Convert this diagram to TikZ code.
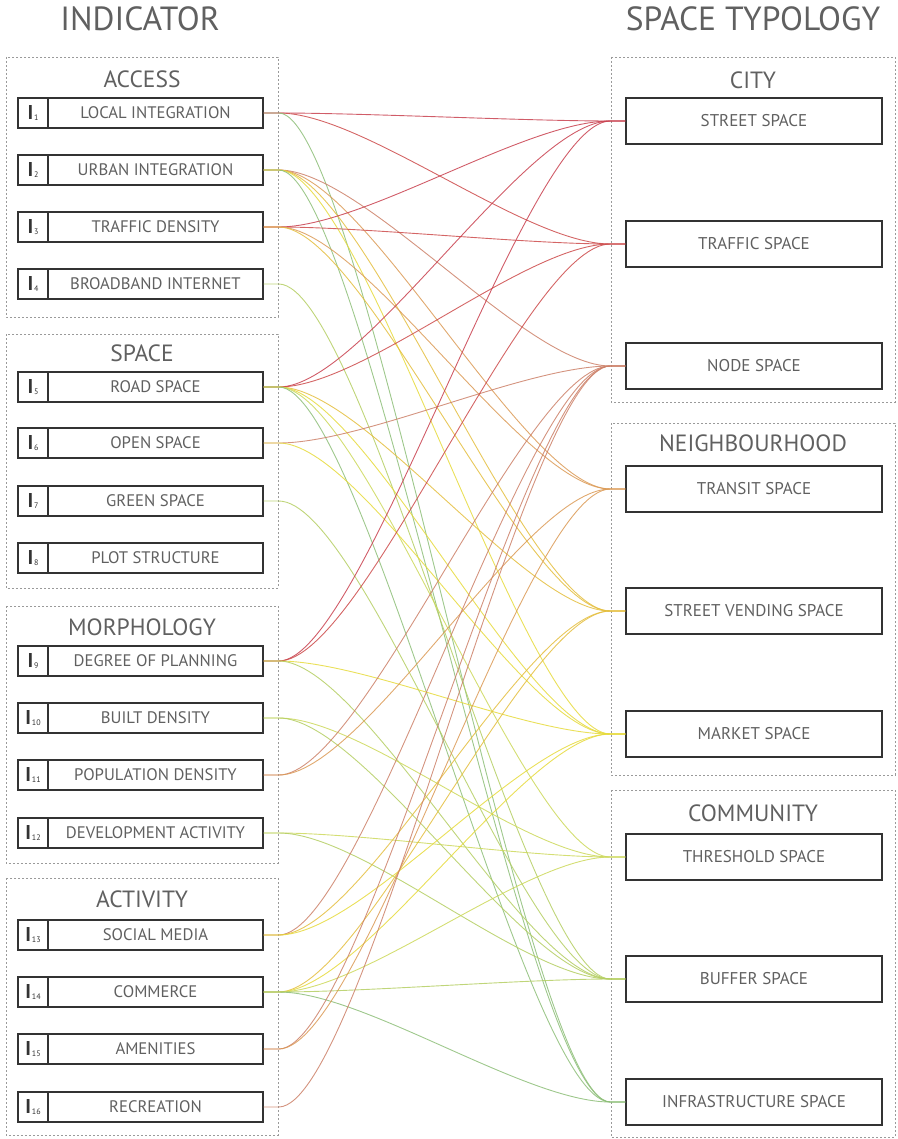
\documentclass[tikz,border=0pt]{standalone}
\usepackage{fontspec}
\setmainfont{PT Sans}
\usetikzlibrary{calc}
\definecolor{txt}{HTML}{606060}
\definecolor{boxc}{HTML}{333333}
\definecolor{grp}{HTML}{9A9A9A}
\definecolor{cR1}{HTML}{C8404E}
\definecolor{cR2}{HTML}{CC4A4A}
\definecolor{cR3}{HTML}{CC8068}
\definecolor{cR4}{HTML}{DB9A55}
\definecolor{cR5}{HTML}{E4BE3E}
\definecolor{cR6}{HTML}{E6DA3C}
\definecolor{cR7}{HTML}{CCD85A}
\definecolor{cR8}{HTML}{B4CE62}
\definecolor{cR9}{HTML}{8DBE78}
\tikzset{
  grpbox/.style={draw=grp, dash pattern=on 2pt off 2pt, line width=0.8pt},
  ibox/.style={draw=boxc, line width=1.4pt, minimum width=30pt, minimum height=30pt, inner sep=0pt, text=black!80},
  lbox/.style={draw=boxc, line width=1.4pt, minimum width=215pt, minimum height=30pt, inner sep=0pt, text=txt, font=\fontsize{16.7}{16.7}\selectfont},
  rbox/.style={draw=boxc, line width=1.4pt, minimum width=256pt, minimum height=46pt, inner sep=0pt, text=txt, font=\fontsize{17}{17}\selectfont},
  grptitle/.style={text=txt, inner sep=0pt, font=\fontsize{23.5}{23.5}\selectfont},
  headtitle/.style={text=txt, inner sep=0pt, font=\fontsize{33.5}{33.5}\selectfont},
  link/.style={line width=0.9pt, opacity=0.85}
}
\newcommand{\idx}[1]{{\fontsize{20}{20}\selectfont\bfseries I}\kern0.8pt\raisebox{-1pt}{\fontsize{8}{8}\selectfont #1}}
\begin{document}
\begin{tikzpicture}[x=1pt,y=-1pt]
\useasboundingbox (0,0) rectangle (897,1139);
% headings
\node[headtitle] (hind) at (140,19) {INDICATOR};
\node[headtitle] (hspt) at (753,19) {SPACE TYPOLOGY};
% group boxes
\draw[grpbox] (6,57) rectangle (278,317);
\draw[grpbox] (6,334) rectangle (278,588);
\draw[grpbox] (6,606) rectangle (278,863);
\draw[grpbox] (6,878) rectangle (278,1135);
\draw[grpbox] (611,57) rectangle (895,402);
\draw[grpbox] (611,423) rectangle (895,775);
\draw[grpbox] (611,790) rectangle (895,1137);
% group titles
\node[grptitle] (gA) at (142,79) {ACCESS};
\node[grptitle] (gS) at (142,353) {SPACE};
\node[grptitle] (gM) at (142,627) {MORPHOLOGY};
\node[grptitle] (gT) at (142,899) {ACTIVITY};
\node[grptitle] (gC) at (753,80) {CITY};
\node[grptitle] (gN) at (753,443) {NEIGHBOURHOOD};
\node[grptitle] (gO) at (753,813) {COMMUNITY};
% indicators
\foreach \n/\y/\t in {1/113/LOCAL INTEGRATION, 2/170/URBAN INTEGRATION, 3/227/TRAFFIC DENSITY, 4/284/BROADBAND INTERNET,
  5/387/ROAD SPACE, 6/443/OPEN SPACE, 7/501/GREEN SPACE, 8/558/PLOT STRUCTURE,
  9/661/DEGREE OF PLANNING, 10/718/BUILT DENSITY, 11/775/POPULATION DENSITY, 12/833/DEVELOPMENT ACTIVITY,
  13/935/SOCIAL MEDIA, 14/992/COMMERCE, 15/1049/AMENITIES, 16/1107/RECREATION}{
  \node[ibox] (I\n) at (33,\y) {\idx{\n}};
  \node[lbox] (L\n) at (155.5,\y) {\t};
}
% space types
\foreach \n/\y/\t in {1/121/STREET SPACE, 2/244/TRAFFIC SPACE, 3/366/NODE SPACE,
  4/489/TRANSIT SPACE, 5/611/STREET VENDING SPACE, 6/734/MARKET SPACE,
  7/857/THRESHOLD SPACE, 8/979/BUFFER SPACE, 9/1102/INFRASTRUCTURE SPACE}{
  \node[rbox] (R\n) at (754,\y) {\t};
}
% links
\foreach \a/\b in {1/1,1/2,1/9,
  2/3,2/4,2/5,2/6,2/9,
  3/1,3/2,3/4,3/5,
  4/8,
  5/1,5/2,5/5,5/6,5/7,5/9,
  6/3,6/6,
  7/8,
  9/1,9/2,9/6,9/8,
  10/7,10/8,
  11/3,11/4,
  12/7,12/8,
  13/3,13/5,13/6,
  14/5,14/6,14/7,14/8,14/9,
  15/3,15/4,
  16/3}{
  \draw[link, color=cR\b] (L\a.east) -- ++(15,0) .. controls +(85,0) and +(-85,0) .. ([xshift=-15pt]R\b.west) -- (R\b.west);
}
\end{tikzpicture}
\end{document}
